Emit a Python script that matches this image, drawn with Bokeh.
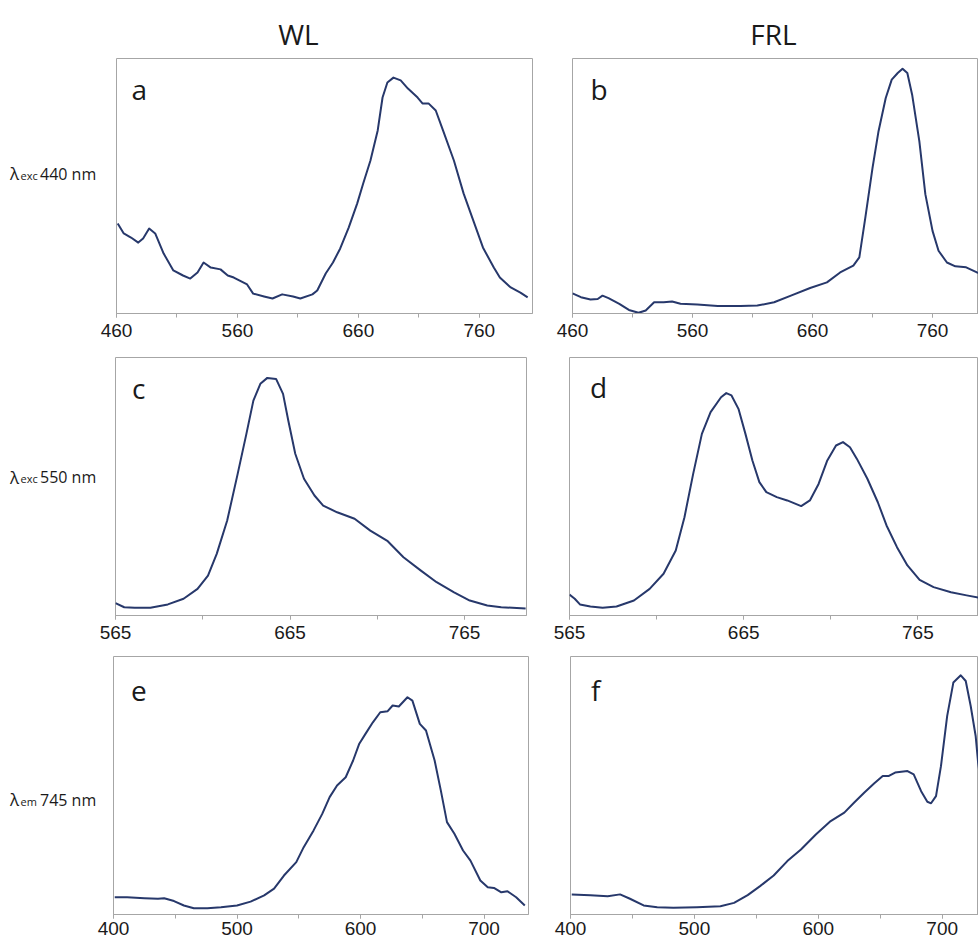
from bokeh.plotting import figure
from bokeh.layouts import row, column
from bokeh.models import Range1d, FixedTicker, Label
from bokeh.embed import file_html
from bokeh.resources import INLINE

# ---------------- data ----------------
col_titles = ["WL", "FRL"]
row_labels = [("exc", "440 nm"), ("exc", "550 nm"), ("em", "745 nm")]
panel_letters = ["a", "b", "c", "d", "e", "f"]

ticks_ab = [460, 560, 660, 760]
minor_ab = [460, 510, 560, 610, 660, 710, 760]
ticks_cd = [565, 665, 765]
minor_cd = [565, 615, 665, 715, 765]
ticks_ef = [400, 500, 600, 700]
minor_ef = [400, 450, 500, 550, 600, 650, 700]

a_wl = [461, 466, 472, 478, 482, 487, 492, 499, 507, 515, 521, 527, 532, 538, 546, 552, 557, 568, 573, 582,
        589, 597, 606, 612, 622, 626, 633, 639, 645, 652, 659, 664, 670, 676, 680, 684, 689, 695, 701, 709,
        713, 718, 724, 730, 739, 747, 755, 763, 772, 777, 786, 794, 800]
a_int = [0.353, 0.314, 0.298, 0.278, 0.294, 0.333, 0.314, 0.235, 0.169, 0.149, 0.137, 0.161, 0.200, 0.180,
         0.173, 0.149, 0.141, 0.114, 0.078, 0.067, 0.059, 0.075, 0.067, 0.059, 0.075, 0.090, 0.157, 0.200,
         0.255, 0.337, 0.431, 0.510, 0.600, 0.718, 0.847, 0.906, 0.925, 0.914, 0.882, 0.847, 0.824, 0.824,
         0.796, 0.718, 0.600, 0.471, 0.365, 0.259, 0.180, 0.141, 0.102, 0.082, 0.063]

b_wl = [460, 467, 475, 481, 485, 490, 499, 507, 515, 521, 528, 536, 543, 550, 564, 581, 600, 614, 628, 642,
        658, 672, 683, 694, 699, 704, 710, 715, 721, 726, 731, 735, 739, 743, 749, 754, 760, 765, 772, 779,
        788, 797, 805]
b_int = [0.079, 0.064, 0.055, 0.057, 0.070, 0.060, 0.038, 0.014, 0.003, 0.012, 0.044, 0.044, 0.047, 0.038,
         0.035, 0.029, 0.029, 0.031, 0.044, 0.070, 0.100, 0.122, 0.161, 0.188, 0.220, 0.376, 0.571, 0.715,
         0.845, 0.917, 0.943, 0.960, 0.943, 0.858, 0.676, 0.468, 0.324, 0.246, 0.200, 0.185, 0.181, 0.161,
         0.150]

c_wl = [565, 570, 576, 585, 595, 604, 612, 618, 623, 629, 635, 640, 644, 648, 652, 657, 661, 664, 668, 673,
        679, 684, 692, 702, 711, 721, 730, 740, 749, 759, 768, 778, 786, 800]
c_int = [0.048, 0.032, 0.030, 0.030, 0.043, 0.065, 0.103, 0.155, 0.239, 0.368, 0.549, 0.704, 0.833, 0.898,
         0.921, 0.917, 0.859, 0.756, 0.627, 0.530, 0.465, 0.426, 0.400, 0.375, 0.329, 0.288, 0.226, 0.174,
         0.129, 0.090, 0.058, 0.039, 0.032, 0.027]

d_wl = [565, 568, 571, 577, 584, 592, 602, 611, 619, 626, 631, 636, 641, 646, 652, 655, 658, 662, 666, 670,
        674, 678, 684, 690, 698, 703, 708, 713, 718, 722, 726, 730, 736, 742, 747, 753, 759, 766, 774, 784,
        793, 800]
d_int = [0.081, 0.065, 0.043, 0.035, 0.030, 0.035, 0.058, 0.103, 0.162, 0.252, 0.381, 0.549, 0.704, 0.788,
         0.846, 0.862, 0.853, 0.801, 0.704, 0.601, 0.517, 0.478, 0.459, 0.446, 0.424, 0.446, 0.510, 0.601,
         0.659, 0.672, 0.652, 0.607, 0.530, 0.439, 0.349, 0.265, 0.194, 0.138, 0.110, 0.090, 0.078, 0.069]

e_wl = [401, 411, 425, 436, 441, 449, 457, 465, 476, 487, 500, 511, 522, 530, 538, 548, 554, 562, 569, 575,
        581, 588, 594, 599, 604, 610, 616, 622, 626, 631, 638, 642, 648, 653, 660, 665, 670, 676, 683, 689,
        697, 703, 708, 714, 719, 726, 733]
e_int = [0.067, 0.067, 0.063, 0.061, 0.063, 0.052, 0.035, 0.024, 0.024, 0.028, 0.035, 0.050, 0.074, 0.100,
         0.151, 0.203, 0.261, 0.326, 0.390, 0.455, 0.500, 0.532, 0.597, 0.662, 0.700, 0.745, 0.784, 0.788,
         0.810, 0.806, 0.842, 0.829, 0.739, 0.713, 0.597, 0.481, 0.358, 0.313, 0.248, 0.209, 0.132, 0.106,
         0.103, 0.086, 0.090, 0.067, 0.035]

f_wl = [401, 416, 430, 440, 448, 459, 470, 483, 502, 521, 532, 543, 553, 564, 575, 586, 598, 610, 621, 629,
        637, 645, 652, 657, 662, 672, 677, 683, 688, 691, 695, 699, 704, 709, 715, 719, 723, 727, 729, 733]
f_int = [0.078, 0.075, 0.071, 0.078, 0.061, 0.035, 0.028, 0.026, 0.028, 0.032, 0.045, 0.075, 0.110, 0.151,
         0.207, 0.252, 0.310, 0.362, 0.395, 0.434, 0.472, 0.508, 0.537, 0.537, 0.550, 0.556, 0.543, 0.478,
         0.437, 0.431, 0.459, 0.575, 0.769, 0.899, 0.927, 0.905, 0.808, 0.692, 0.589, 0.450]

# ---------------- styles / layout ----------------
LINE = "#27386b"
GREY = "#a6a6a6"
TEXT = "#1a1a1a"
FONT = "Open Sans"

W = 978
LABEL_W = 97
TITLE_H = 56
ROWS = [(56, 344), (344, 646), (646, 943)]   # page y extents of the three rows

# page-pixel geometry of each panel frame and its borders
specs = {
    "a": dict(fl=116, ft=58, fw=416, fh=255, bl=19, br=20, bt=2, bb=31, x0=460, x1=804, so=6),
    "b": dict(fl=572, ft=57, fw=406, fh=256, bl=20, br=0, bt=1, bb=31, x0=460, x1=798.3, so=6),
    "c": dict(fl=115, ft=357, fw=411, fh=258, bl=18, br=21, bt=13, bb=31, x0=565, x1=800.5, so=6),
    "d": dict(fl=569, ft=357, fw=409, fh=258, bl=22, br=0, bt=13, bb=31, x0=565, x1=799.8, so=6),
    "e": dict(fl=113, ft=656, fw=415, fh=258, bl=16, br=21, bt=10, bb=29, x0=400, x1=736, so=3),
    "f": dict(fl=570, ft=656, fw=408, fh=258, bl=21, br=0, bt=10, bb=29, x0=400, x1=729.3, so=3),
}
for s in specs.values():
    s["fb"] = s["ft"] + s["fh"]


def label(p, x, y, text, size, align="left"):
    p.add_layout(Label(x=x, y=y, text=text, text_font=FONT, text_font_size=f"{size}px",
                       text_align=align, text_baseline="alphabetic", text_color=TEXT))


def text_fig(x_left, width, y_top, y_bottom):
    # a plain canvas whose data coordinates are page pixels
    p = figure(width=width, height=y_bottom - y_top,
               x_range=Range1d(x_left, x_left + width), y_range=Range1d(y_bottom, y_top),
               output_backend="svg", toolbar_location=None, title=None,
               x_axis_location=None, y_axis_location=None, min_border=0)
    p.xgrid.visible = False
    p.ygrid.visible = False
    p.outline_line_color = None
    p.background_fill_color = "white"
    p.border_fill_color = "white"
    return p


def panel(key, wl, inten, ticks, minor):
    s = specs[key]
    p = figure(width=s["bl"] + s["fw"] + s["br"], height=s["bt"] + s["fh"] + s["bb"],
               x_range=Range1d(s["x0"], s["x1"]), y_range=Range1d(0, 1),
               output_backend="svg", toolbar_location=None, y_axis_location=None, title=None,
               min_border_left=s["bl"], min_border_right=s["br"],
               min_border_top=s["bt"], min_border_bottom=s["bb"])
    p.xgrid.visible = False
    p.ygrid.visible = False
    p.outline_line_color = GREY
    p.outline_line_width = 1
    p.background_fill_color = "white"
    p.border_fill_color = "white"
    ax = p.xaxis[0]
    ax.ticker = FixedTicker(ticks=ticks, minor_ticks=minor)
    ax.axis_line_color = GREY
    ax.major_tick_line_color = GREY
    ax.minor_tick_line_color = GREY
    ax.major_tick_in = 0
    ax.major_tick_out = 4
    ax.minor_tick_in = 0
    ax.minor_tick_out = 4
    ax.major_label_standoff = s["so"]
    ax.major_label_text_font = "Liberation Sans"
    ax.major_label_text_font_size = "19px"
    ax.major_label_text_color = TEXT
    p.line(wl, inten, line_color=LINE, line_width=2, line_join="round")
    return p


def panel_letter(p, key, px, py, letter):
    s = specs[key]
    x = s["x0"] + (px - s["fl"]) * (s["x1"] - s["x0"]) / s["fw"]
    y = (s["fb"] - py) / s["fh"]
    label(p, x, y, letter, 28)


pa = panel("a", a_wl, a_int, ticks_ab, minor_ab)
pb = panel("b", b_wl, b_int, ticks_ab, minor_ab)
pc = panel("c", c_wl, c_int, ticks_cd, minor_cd)
pd = panel("d", d_wl, d_int, ticks_cd, minor_cd)
pe = panel("e", e_wl, e_int, ticks_ef, minor_ef)
pf = panel("f", f_wl, f_int, ticks_ef, minor_ef)

letter_pos = [(pa, "a", 131, 88), (pb, "b", 590, 88), (pc, "c", 131.5, 387),
              (pd, "d", 589.5, 386), (pe, "e", 130.5, 690), (pf, "f", 590.5, 689)]
for letter, (p, key, px, py) in zip(panel_letters, letter_pos):
    panel_letter(p, key, px, py, letter)

# column titles
title_fig = text_fig(0, W, 0, TITLE_H)
label(title_fig, 298, 33, col_titles[0], 28, "center")
label(title_fig, 773, 33, col_titles[1], 28, "center")

# row labels (lambda with subscript)
label_figs = []
for (sub, rest), (y0, y1), base in zip(row_labels, ROWS, [186, 484, 811]):
    lf = text_fig(0, LABEL_W, y0, y1)
    label(lf, 9.5, base, "λ", 17)
    label(lf, 20, base + 2, sub, 11)
    label(lf, 39.5, base, rest, 16)
    label_figs.append(lf)

root = column(title_fig,
              row(label_figs[0], pa, pb),
              row(label_figs[1], pc, pd),
              row(label_figs[2], pe, pf))

open("out.html", "w").write(file_html(root, INLINE))
